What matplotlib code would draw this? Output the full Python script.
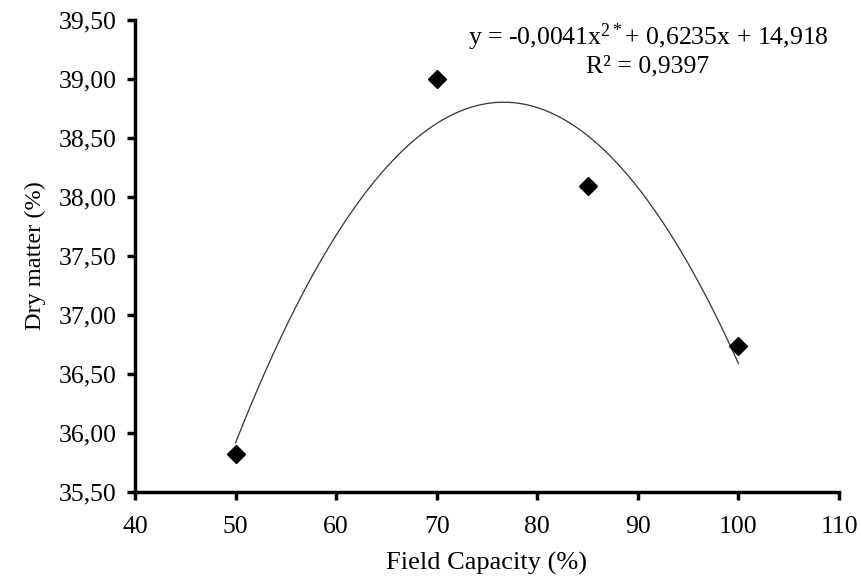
import numpy as np
import matplotlib
matplotlib.use("Agg")
import matplotlib.pyplot as plt
from matplotlib.ticker import FuncFormatter

plt.rcParams['font.family'] = ['Liberation Serif', 'DejaVu Serif']
plt.rcParams['mathtext.fontset'] = 'custom'
plt.rcParams['mathtext.rm'] = 'Liberation Serif'
plt.rcParams['mathtext.it'] = 'Liberation Serif'

field_capacity = [50, 70, 85, 100]
dry_matter = [35.82, 39.00, 38.09, 36.74]
x_ticks = [40, 50, 60, 70, 80, 90, 100, 110]
y_ticks = [35.5, 36.0, 36.5, 37.0, 37.5, 38.0, 38.5, 39.0, 39.5]
equation = r'y = -0,0041x$^{2*}$+ 0,6235x + 14,918'
r2_text = 'R² = 0,9397'

fig = plt.figure(figsize=(8.61, 5.79), dpi=100)
ax = fig.add_axes([135/861, 1-492/579, (839-135)/861, (492-20)/579])

coef = np.polyfit(field_capacity, dry_matter, 2)
xs = np.linspace(min(field_capacity), max(field_capacity), 200)
ax.plot(xs, np.polyval(coef, xs), color='#333333', lw=0.9, zorder=2)
ax.plot(field_capacity, dry_matter, linestyle='none', marker='D', ms=9,
        color='black', zorder=3)

ax.set_xlim(40, 110)
ax.set_ylim(35.5, 39.5)
ax.set_xticks(x_ticks)
ax.set_yticks(y_ticks)
ax.yaxis.set_major_formatter(FuncFormatter(lambda v, p: f'{v:.2f}'.replace('.', ',')))
ax.xaxis.set_major_formatter(FuncFormatter(lambda v, p: f'{v:.0f}'))
for s in ['top', 'right']:
    ax.spines[s].set_visible(False)
for s in ['left', 'bottom']:
    ax.spines[s].set_linewidth(2.5)
ax.tick_params(direction='out', length=5.5, width=2.5)
ax.tick_params(axis='y', labelsize=18.5, pad=8)
ax.tick_params(axis='x', labelsize=18.5, pad=12)
ax.set_xlabel('Field Capacity (%)', fontsize=19, labelpad=10)
ax.set_ylabel('Dry matter (%)', fontsize=17.5, labelpad=9)

ax.text(648/861, 1-37/579, equation, transform=fig.transFigure, ha='center',
        va='center', fontsize=18.5)
ax.text(648/861, 1-66/579, r2_text, transform=fig.transFigure, ha='center',
        va='center', fontsize=18.5)

fig.savefig('out.png', dpi=100)
